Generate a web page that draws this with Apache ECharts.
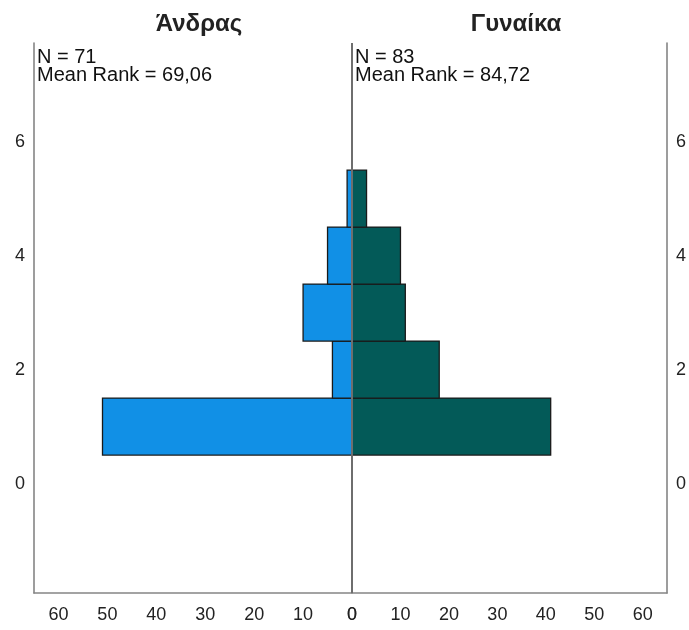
<!DOCTYPE html>
<html>
<head>
<meta charset="utf-8">
<script src="https://cdn.jsdelivr.net/npm/echarts@6/dist/echarts.min.js"></script>
<style>html,body{margin:0;padding:0;background:#fff}#c{width:689px;height:630px}</style>
</head>
<body>
<div id="c"></div>
<script>
// ---- data ----
const binCenters = [1, 2, 3, 4, 5];
const maleCounts = [51, 4, 10, 5, 1];
const femaleCounts = [41, 18, 11, 10, 3];
const groupNames = ['Άνδρας', 'Γυναίκα'];
const groupN = [71, 83];
const groupMeanRank = ['69,06', '84,72'];
const xTickLabels = [0, 10, 20, 30, 40, 50, 60];
const yTickLabels = [0, 2, 4, 6];

const FONT = '"Liberation Sans", Arial, sans-serif';
const maleColor = '#1190e6';
const femaleColor = '#035a58';

const chart = echarts.init(document.getElementById('c'), null, {renderer: 'canvas'});

function barRenderer(color) {
  return function (params, api) {
    const yc = api.value(0), cnt = api.value(1);
    const p0 = api.coord([0, yc - 0.5]);
    const p1 = api.coord([cnt, yc + 0.5]);
    return {
      type: 'rect',
      shape: {
        x: Math.min(p0[0], p1[0]), y: Math.min(p0[1], p1[1]),
        width: Math.abs(p1[0] - p0[0]), height: Math.abs(p1[1] - p0[1])
      },
      style: {fill: color, stroke: '#1a1a1a', lineWidth: 1.3}
    };
  };
}

const yMin = -1.92, yMax = 7.73;
const gray = '#858585';

function xAxisCfg(gi, inverse) {
  return {
    type: 'value', gridIndex: gi, min: 0, max: 65, interval: 10, inverse: inverse,
    axisLine: {show: true, onZero: false, lineStyle: {color: gray, width: 1.6}},
    axisTick: {show: false},
    splitLine: {show: false},
    axisLabel: {
      color: '#222', fontFamily: FONT, fontSize: 18, margin: 13,
      customValues: xTickLabels
    }
  };
}
function yAxisCfg(gi, pos, showLabel, lineColor, lineWidth) {
  return {
    type: 'value', gridIndex: gi, position: pos, min: yMin, max: yMax,
    axisLine: {show: true, onZero: false, lineStyle: {color: lineColor, width: lineWidth}},
    axisTick: {show: false},
    splitLine: {show: false},
    axisLabel: {
      show: showLabel, color: '#222', fontFamily: FONT, fontSize: 18, margin: 9,
      customValues: yTickLabels, padding: [7, 0, 0, 0]
    }
  };
}

const option = {
  animation: false,
  backgroundColor: '#fff',
  grid: [
    {left: 34, top: 43, width: 318, bottom: 37},
    {left: 352, top: 43, width: 318, bottom: 37}
  ],
  xAxis: [xAxisCfg(0, true), xAxisCfg(1, false)],
  yAxis: [
    yAxisCfg(0, 'left', true, gray, 1.6),
    yAxisCfg(1, 'right', true, gray, 1.6)
  ],
  title: [
    {text: groupNames[0], left: 194, top: 7, textAlign: 'center',
     textStyle: {fontFamily: FONT, fontWeight: 'bold', fontSize: 24, color: '#222'}},
    {text: groupNames[1], left: 511, top: 7, textAlign: 'center',
     textStyle: {fontFamily: FONT, fontWeight: 'bold', fontSize: 24, color: '#222'}}
  ],
  graphic: [
    {type: 'text', left: 37, top: 47,
     style: {text: 'N = ' + groupN[0] + '\nMean Rank = ' + groupMeanRank[0],
       font: '20px ' + FONT, lineHeight: 18, fill: '#111'}},
    {type: 'text', left: 355, top: 47,
     style: {text: 'N = ' + groupN[1] + '\nMean Rank = ' + groupMeanRank[1],
       font: '20px ' + FONT, lineHeight: 18, fill: '#111'}}
  ],
  series: [
    {type: 'custom', xAxisIndex: 0, yAxisIndex: 0, renderItem: barRenderer(maleColor),
     data: binCenters.map((b, i) => [b, maleCounts[i]]), encode: {x: 1, y: 0}, z: 2},
    {type: 'custom', xAxisIndex: 1, yAxisIndex: 1, renderItem: barRenderer(femaleColor),
     data: binCenters.map((b, i) => [b, femaleCounts[i]]), encode: {x: 1, y: 0}, z: 3,
     markLine: {
       silent: true, symbol: 'none', label: {show: false},
       lineStyle: {color: '#6e6e6e', width: 2, type: 'solid'},
       data: [[{coord: [0, yMin]}, {coord: [0, yMax]}]]
     }}
  ]
};
chart.setOption(option);
</script>
</body>
</html>
